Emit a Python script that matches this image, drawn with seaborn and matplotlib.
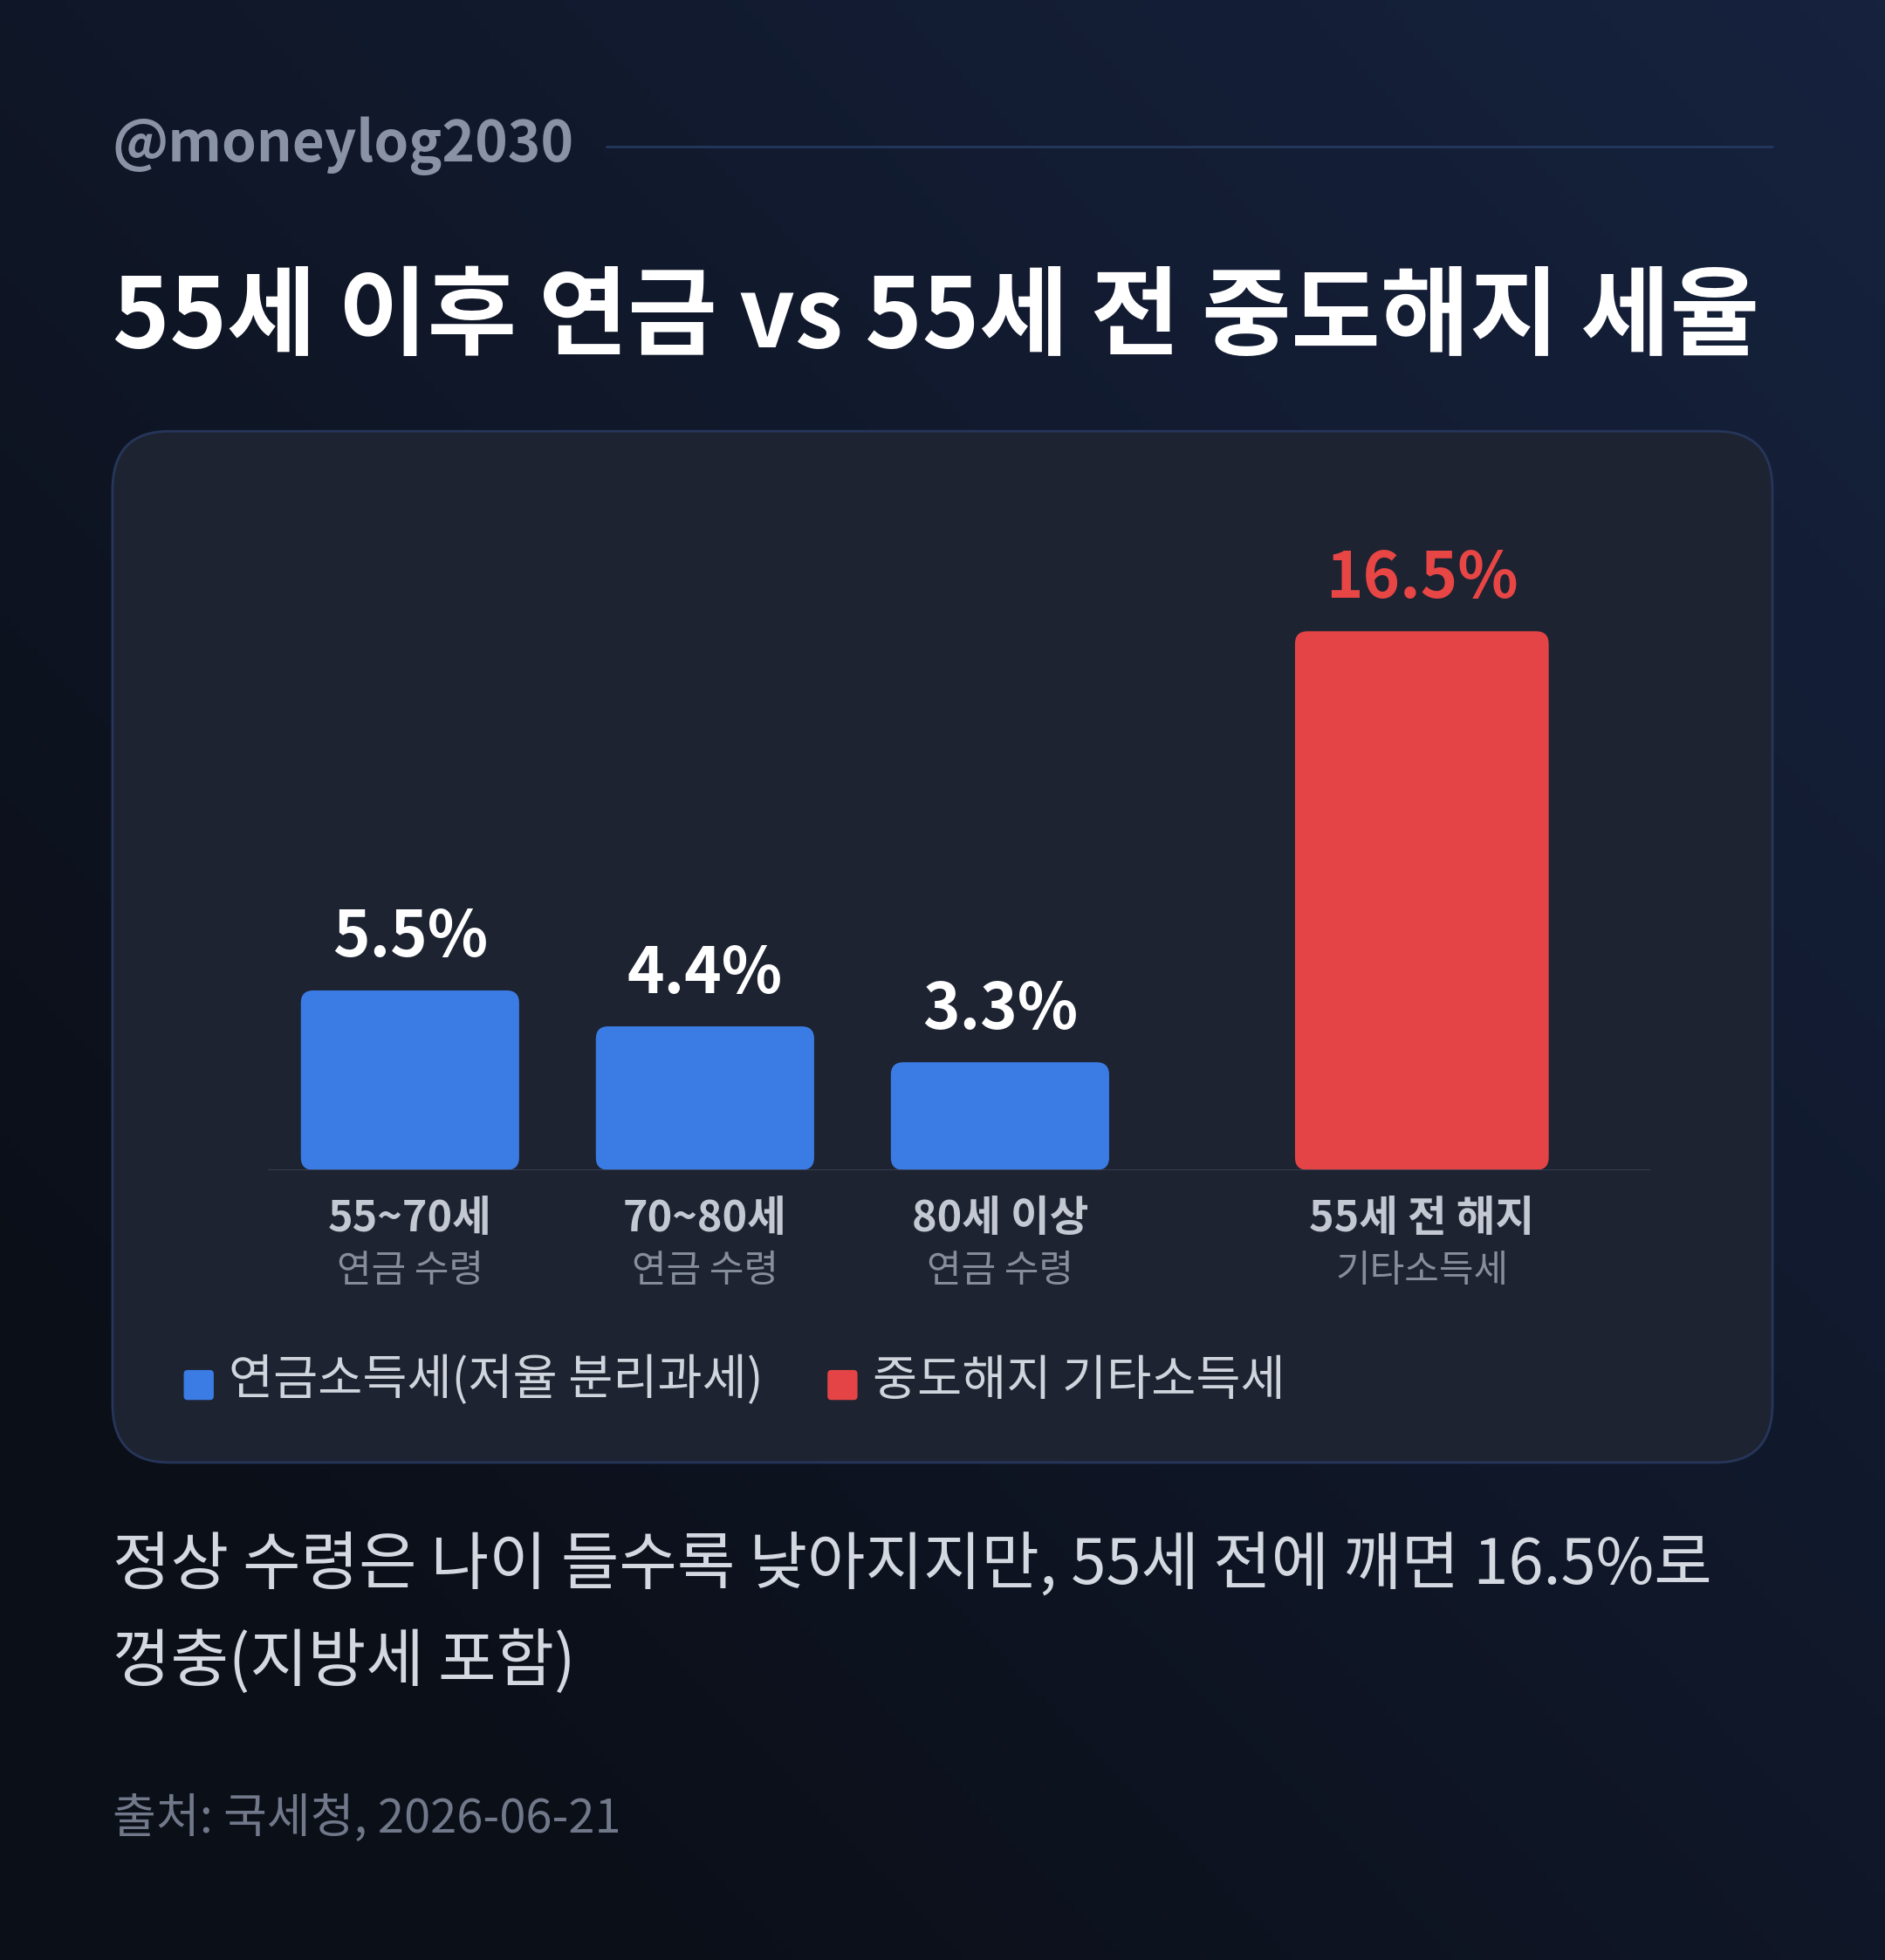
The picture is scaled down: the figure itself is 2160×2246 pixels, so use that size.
import numpy as np
import matplotlib
matplotlib.use("Agg")
import matplotlib.pyplot as plt
import seaborn as sns
from matplotlib.patches import FancyBboxPatch
import pandas as pd

categories = ["55~70세", "70~80세", "80세 이상", "55세 전 해지"]
subtitles = ["연금 수령", "연금 수령", "연금 수령", "기타소득세"]
values = [5.5, 4.4, 3.3, 16.5]
groups = ["연금소득세(저율 분리과세)", "연금소득세(저율 분리과세)", "연금소득세(저율 분리과세)", "중도해지 기타소득세"]
value_labels = ["5.5%", "4.4%", "3.3%", "16.5%"]

sns.set_theme(style="white")
FONT = ["Noto Sans CJK KR", "DejaVu Sans"]
plt.rcParams["font.family"] = FONT

W, H = 1508, 1568
def fx(x): return x / W
def fy(y): return 1 - y / H

fig = plt.figure(figsize=(21.6, 22.46), dpi=100)

# background gradient
bg = fig.add_axes([0, 0, 1, 1])
bg.set_zorder(-5)
yy, xx = np.mgrid[0:1:200j, 0:1:200j]
t = np.clip(0.6 * xx + 0.6 * (1 - yy) - 0.2, 0, 1)
c0 = np.array([0x0b, 0x0f, 0x18]) / 255
c1 = np.array([0x16, 0x22, 0x3e]) / 255
img = c0[None, None, :] * (1 - t[..., None]) + c1[None, None, :] * t[..., None]
bg.imshow(img, extent=[0, 1, 0, 1], aspect="auto", origin="upper")
bg.set_axis_off()

# card
card = FancyBboxPatch((fx(90), fy(1170)), fx(1418) - fx(90), fy(345) - fy(1170),
                      boxstyle="round,pad=0,rounding_size=0.03", transform=fig.transFigure,
                      facecolor="#1d2331", edgecolor="#26365a", linewidth=2, zorder=-3)
fig.patches.append(card)

# header
fig.text(fx(90), fy(117), "@moneylog2030", color="#8a93a6", fontsize=46, fontweight="bold",
         va="center", ha="left")
fig.add_artist(plt.Line2D([fx(485), fx(1418)], [fy(117), fy(117)], transform=fig.transFigure,
                          color="#24385e", linewidth=2))
fig.text(fx(90), fy(255), "55세 이후 연금 vs 55세 전 중도해지 세율", color="white",
         fontsize=80, fontweight="bold", va="center", ha="left")

# chart axes
px_per_unit = 236.0
x0 = (214 - 328) / px_per_unit
x1 = (1320 - 328) / px_per_unit
ax = fig.add_axes([fx(214), fy(936), fx(1320) - fx(214), fy(400) - fy(936)])
ax.set_zorder(2)
ax.set_facecolor("none")
ymax = (936 - 400) / 26.12
xpos = [0, 1, 2, 3.43]
widths = [0.74, 0.74, 0.74, 0.86]
colors = ["#3b7be4", "#3b7be4", "#3b7be4", "#e54446"]
df = pd.DataFrame({"x": xpos, "v": values, "g": groups})
sns.barplot(data=df, x="x", y="v", hue="g", native_scale=True,
            palette={groups[0]: colors[0], groups[3]: colors[3]}, ax=ax, legend=False, width=0.74)
for p in list(ax.patches):
    p.remove()
aspect = px_per_unit / 26.12
for xv, v, w, c, lab in zip(xpos, values, widths, colors, value_labels):
    r = 10 / px_per_unit
    patch = FancyBboxPatch((xv - w / 2, 0), w, v, boxstyle=f"round,pad=0,rounding_size={r}",
                           mutation_aspect=aspect, facecolor=c, edgecolor="none", zorder=3)
    ax.add_patch(patch)
    ax.text(xv, v + 0.6, lab, ha="center", va="bottom", fontsize=52, fontweight="bold",
            color=("#e84545" if c == colors[3] else "white"))
ax.set_xlim(x0, x1)
ax.set_ylim(0, ymax)
ax.axhline(0, color="#3a4253", linewidth=2, zorder=4)
ax.set_axis_off()

for xv, cat, sub in zip(xpos, categories, subtitles):
    xf = fx(328 + xv * px_per_unit)
    fig.text(xf, fy(975), cat, ha="center", va="center", fontsize=35, fontweight="bold", color="#c3c8d2")
    fig.text(xf, fy(1017), sub, ha="center", va="center", fontsize=31, color="#868e9c")

# legend
for lx, c, g in [(147, colors[0], groups[0]), (662, colors[3], groups[3])]:
    sq = FancyBboxPatch((fx(lx), fy(1120)), fx(24), fy(0) - fy(24),
                        boxstyle="round,pad=0,rounding_size=0.002", transform=fig.transFigure,
                        facecolor=c, edgecolor="none")
    fig.patches.append(sq)
    fig.text(fx(lx + 36), fy(1105), g, ha="left", va="center", fontsize=40, color="#d0d4dc")

# caption
fig.text(fx(90), fy(1252), "정상 수령은 나이 들수록 낮아지지만, 55세 전에 깨면 16.5%로",
         ha="left", va="center", fontsize=52, color="#d4d8e0")
fig.text(fx(90), fy(1330), "껑충(지방세 포함)", ha="left", va="center", fontsize=52, color="#d4d8e0")
fig.text(fx(90), fy(1455), "출처: 국세청, 2026-06-21", ha="left", va="center", fontsize=39, color="#70788a")

fig.savefig("out.png", dpi=100)
